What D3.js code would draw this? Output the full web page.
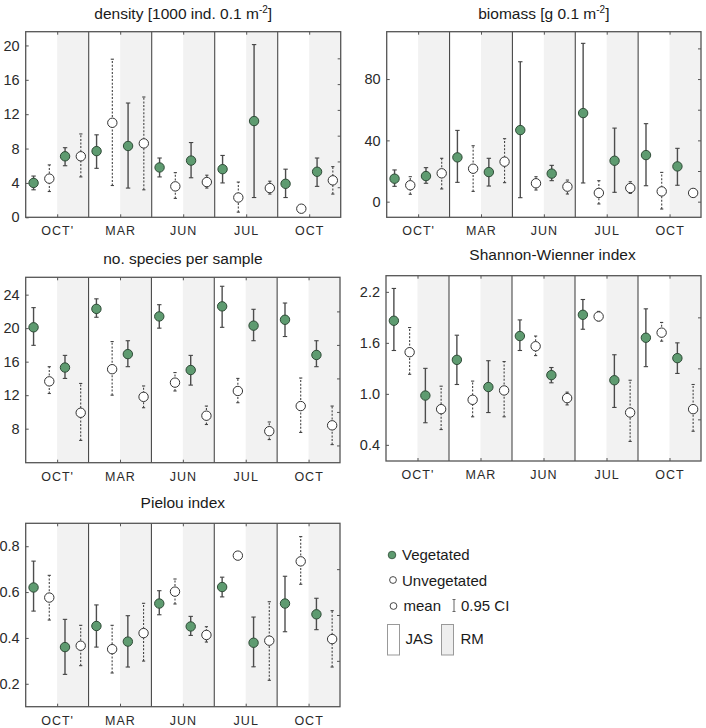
<!DOCTYPE html>
<html><head><meta charset="utf-8">
<script src="https://cdn.jsdelivr.net/npm/d3@7"></script>
<style>
body{margin:0;background:#fff;}
svg{display:block;font-family:Arial,"Liberation Sans",sans-serif;}
</style></head>
<body><svg id="c" width="706" height="728"></svg>
<script>
const months = ["OCT'", "MAR", "JUN", "JUL", "OCT"];
const groups = ["V-JAS", "U-JAS", "V-RM", "U-RM"];

const densityMean = [[4.0,4.5,7.1,7.1],[7.7,11.0,8.3,8.6],[5.8,3.6,6.6,4.1],[5.6,2.3,11.2,3.4],[3.9,1.0,5.3,4.3]];
const densityLow  = [[3.2,3.0,6.0,4.7],[5.7,3.7,3.4,3.2],[4.7,2.2,4.6,3.4],[4.0,0.6,2.3,2.7],[2.3,null,3.6,2.7]];
const densityHigh = [[4.8,6.1,8.1,9.7],[9.6,18.4,13.3,14.0],[6.9,5.2,8.7,4.9],[7.2,4.1,20.1,4.2],[5.6,null,6.9,5.9]];

const biomassMean = [[15.0,10.7,16.7,18.5],[28.9,21.5,19.3,26.1],[46.7,12.0,18.3,9.8],[57.8,5.7,26.7,8.9],[30.4,6.7,23.0,5.7]];
const biomassLow  = [[10.0,4.8,12.0,8.3],[12.6,6.7,10.2,12.4],[2.6,7.6,13.7,5.0],[12.2,-1.5,6.1,5.4],[10.4,-4.8,10.7,null]];
const biomassHigh = [[20.7,16.3,22.2,28.3],[46.5,36.5,28.3,41.1],[91.3,16.3,23.7,14.1],[103.3,13.7,48.0,13.0],[50.9,19.1,34.8,null]];

const speciesMean = [[20.1,13.65,15.3,9.9],[22.3,15.1,16.9,11.8],[21.4,13.5,15.0,9.55],[22.6,12.5,20.3,7.7],[21.0,10.7,16.8,8.4]];
const speciesLow  = [[17.95,12.2,14.0,6.6],[21.3,12.0,15.4,10.5],[20.0,12.5,13.2,8.5],[20.1,11.1,18.5,6.7],[19.0,7.55,15.4,6.1]];
const speciesHigh = [[22.45,15.4,16.75,13.4],[23.5,18.4,18.5,13.1],[22.8,14.7,16.75,10.7],[25.0,14.0,22.25,8.8],[23.0,14.05,18.5,10.7]];

const shannonMean = [[1.86,1.49,0.98,0.82],[1.40,0.93,1.08,1.04],[1.68,1.56,1.22,0.95],[1.93,1.91,1.16,0.78],[1.66,1.72,1.42,0.82]];
const shannonLow  = [[1.51,1.23,0.66,0.58],[1.11,0.73,0.78,0.73],[1.51,1.45,1.13,0.87],[1.76,1.86,0.84,0.44],[1.32,1.62,1.24,0.56]];
const shannonHigh = [[2.24,1.78,1.30,1.09],[1.69,1.15,1.39,1.38],[1.87,1.68,1.31,1.02],[2.11,1.97,1.46,1.16],[2.00,1.84,1.60,1.11]];

const pielouMean = [[0.62,0.576,0.36,0.366],[0.452,0.351,0.384,0.421],[0.55,0.602,0.45,0.413],[0.622,0.759,0.379,0.388],[0.55,0.734,0.503,0.395]];
const pielouLow  = [[0.517,0.478,0.241,0.279],[0.36,0.247,0.273,0.299],[0.501,0.548,0.411,0.382],[0.579,0.75,0.274,0.215],[0.427,0.634,0.436,0.273]];
const pielouHigh = [[0.735,0.673,0.481,0.455],[0.544,0.455,0.497,0.551],[0.606,0.657,0.494,0.449],[0.665,0.768,0.491,0.558],[0.669,0.842,0.573,0.519]];

const densityTicks = [0,4,8,12,16,20];
const biomassTicks = [0,40,80];
const speciesTicks = [8,12,16,20,24];
const shannonTicks = [0.4,1.0,1.6,2.2];
const pielouTicks = [0.2,0.4,0.6,0.8];

const legendLabels = ["Vegetated", "Unvegetated", "mean", "0.95 CI", "JAS", "RM"];

const panels = [
  {title:"density [1000 ind. 0.1 m", sup:"-2", tail:"]", mean:densityMean, low:densityLow, high:densityHigh,
   domain:[0,21.6], ticks:densityTicks, rticks:[3.5,6.5,9.5,12.5,15.5,18.5], fmt:d3.format("d"),
   x0:25.7, x1:340.7, y0:31.7, y1:217.3, ty:18.5},
  {title:"biomass [g 0.1 m", sup:"-2", tail:"]", mean:biomassMean, low:biomassLow, high:biomassHigh,
   domain:[-10.2,110.9], ticks:biomassTicks, rticks:[0,20,40,60,80,100], fmt:d3.format("d"),
   x0:386.7, x1:701, y0:31.7, y1:217.3, ty:18.5},
  {title:"no. species per sample", mean:speciesMean, low:speciesLow, high:speciesHigh,
   domain:[3.94,26.07], ticks:speciesTicks, rticks:[6,10,14,18,22], fmt:d3.format("d"),
   x0:25.7, x1:340, y0:277.3, y1:462.7, ty:263.5},
  {title:"Shannon-Wienner index", mean:shannonMean, low:shannonLow, high:shannonHigh,
   domain:[0.21,2.39], ticks:shannonTicks, rticks:[0.7,1.3,1.9], fmt:d3.format(".1f"),
   x0:386, x1:701, y0:275.7, y1:461, ty:259.5, tdx:9},
  {title:"Pielou index", mean:pielouMean, low:pielouLow, high:pielouHigh,
   domain:[0.1,0.9], ticks:pielouTicks, rticks:[0.3,0.5,0.7], fmt:d3.format(".1f"),
   x0:25.7, x1:340, y0:523.3, y1:706.7, ty:508}
];

const svg = d3.select("#c");
const GREEN = "#5e9b70", FRAME = "#555", SHADE = "#f2f2f2";

panels.forEach(p => {
  const g = svg.append("g");
  const xm = d3.scaleBand().domain(months).range([p.x0, p.x1]).padding(0);
  const xs = d3.scaleBand().domain(groups).range([0, xm.bandwidth()]).padding(0);
  const y = d3.scaleLinear().domain(p.domain).range([p.y1, p.y0]);

  g.selectAll("rect.shade").data(months).enter().append("rect")
    .attr("x", m => xm(m) + xs("V-RM"))
    .attr("y", p.y0).attr("width", xm.bandwidth()/2).attr("height", p.y1 - p.y0)
    .attr("fill", SHADE);

  g.selectAll("line.div").data(months.slice(1)).enter().append("line")
    .attr("x1", m => xm(m)).attr("x2", m => xm(m))
    .attr("y1", p.y0).attr("y2", p.y1)
    .attr("stroke", "#4a4a4a").attr("stroke-width", 1.1);

  const ly = d3.axisLeft(y).tickValues(p.ticks).tickFormat(p.fmt).tickSizeInner(-3).tickSizeOuter(0).tickPadding(6);
  const la = g.append("g").attr("transform", `translate(${p.x0},0)`).call(ly);
  la.select(".domain").remove();
  la.selectAll("line").attr("stroke", FRAME);
  la.selectAll("text").attr("font-size", 14.5).attr("fill", "#2a2a2a").attr("font-family", "Arial, 'Liberation Sans', sans-serif");

  const ry = d3.axisRight(y).tickValues(p.rticks).tickFormat("").tickSizeInner(-3).tickSizeOuter(0);
  const ra = g.append("g").attr("transform", `translate(${p.x1},0)`).call(ry);
  ra.select(".domain").remove();
  ra.selectAll("line").attr("stroke", FRAME);

  const xc = d3.scalePoint().domain(months).range([xm(months[0]) + xm.bandwidth()/2, xm(months[4]) + xm.bandwidth()/2]);
  const bx = d3.axisBottom(xc).tickSizeInner(-3).tickSizeOuter(0).tickPadding(9);
  const ba = g.append("g").attr("transform", `translate(0,${p.y1})`).call(bx);
  ba.select(".domain").remove();
  ba.selectAll("line").attr("stroke", FRAME);
  ba.selectAll("text").attr("font-size", 12.5).attr("fill", "#2a2a2a").attr("letter-spacing", "1px")
    .attr("font-family", "Arial, 'Liberation Sans', sans-serif");

  const tx = d3.axisTop(xc).tickFormat("").tickSizeInner(-3).tickSizeOuter(0);
  const ta = g.append("g").attr("transform", `translate(0,${p.y0})`).call(tx);
  ta.select(".domain").remove();
  ta.selectAll("line").attr("stroke", FRAME);

  g.append("rect").attr("x", p.x0).attr("y", p.y0).attr("width", p.x1 - p.x0).attr("height", p.y1 - p.y0)
    .attr("fill", "none").attr("stroke", FRAME).attr("stroke-width", 1.3);

  const pts = [];
  months.forEach((m, i) => groups.forEach((gr, j) => {
    pts.push({m, gr, veg: gr.startsWith("V"), v: p.mean[i][j], lo: p.low[i][j], hi: p.high[i][j]});
  }));
  const cx = d => xm(d.m) + xs(d.gr) + xs.bandwidth()/2;

  const eb = pts.filter(d => d.lo !== null && d.hi !== null);
  const ebg = g.selectAll("g.eb").data(eb).enter().append("g");
  ebg.append("line")
    .attr("x1", cx).attr("x2", cx).attr("y1", d => y(d.lo)).attr("y2", d => y(d.hi))
    .attr("stroke", d => d.veg ? "#4d4d4d" : "#444")
    .attr("stroke-width", d => d.veg ? 1.4 : 1.1)
    .attr("stroke-dasharray", d => d.veg ? null : "2,1.6");
  ["lo","hi"].forEach(k => {
    ebg.append("line")
      .attr("x1", d => cx(d) - (d.veg ? 2.2 : 1.6)).attr("x2", d => cx(d) + (d.veg ? 2.2 : 1.6))
      .attr("y1", d => y(d[k])).attr("y2", d => y(d[k]))
      .attr("stroke", "#444").attr("stroke-width", 1.1);
  });

  g.selectAll("circle.pt").data(pts).enter().append("circle")
    .attr("cx", cx).attr("cy", d => y(d.v)).attr("r", 4.7)
    .attr("fill", d => d.veg ? GREEN : "#fff")
    .attr("stroke", d => d.veg ? "#2e4a36" : "#333").attr("stroke-width", 1);

  const t = g.append("text").attr("x", (p.x0 + p.x1)/2 + (p.tdx || 0)).attr("y", p.ty)
    .attr("text-anchor", "middle").attr("font-size", 15.5).attr("fill", "#1a1a1a");
  t.append("tspan").text(p.title);
  if (p.sup) {
    t.append("tspan").attr("font-size", 10).attr("dy", -6).text(p.sup);
    t.append("tspan").attr("dy", 6).text(p.tail);
  }
});

const lg = svg.append("g").attr("font-size", 15).attr("fill", "#1a1a1a");
lg.append("circle").attr("cx", 392).attr("cy", 555).attr("r", 3.8).attr("fill", GREEN).attr("stroke", "#2e4a36").attr("stroke-width", 0.8);
lg.append("text").attr("x", 402).attr("y", 560).text(legendLabels[0]);
lg.append("circle").attr("cx", 393).attr("cy", 580).attr("r", 3.4).attr("fill", "#fff").attr("stroke", "#333").attr("stroke-width", 0.9);
lg.append("text").attr("x", 402).attr("y", 586).text(legendLabels[1]);
lg.append("circle").attr("cx", 393.5).attr("cy", 606).attr("r", 3.4).attr("fill", "#fff").attr("stroke", "#333").attr("stroke-width", 0.9);
lg.append("text").attr("x", 403.5).attr("y", 611).text(legendLabels[2]);
lg.append("line").attr("x1", 454).attr("x2", 454).attr("y1", 599.5).attr("y2", 611.5).attr("stroke", "#666").attr("stroke-width", 1);
lg.append("line").attr("x1", 452.5).attr("x2", 455.5).attr("y1", 599.5).attr("y2", 599.5).attr("stroke", "#666").attr("stroke-width", 1);
lg.append("line").attr("x1", 452.5).attr("x2", 455.5).attr("y1", 611.5).attr("y2", 611.5).attr("stroke", "#666").attr("stroke-width", 1);
lg.append("text").attr("x", 461).attr("y", 611).text(legendLabels[3]);
lg.append("rect").attr("x", 387.5).attr("y", 624.5).attr("width", 12).attr("height", 30.5).attr("fill", "#fff").attr("stroke", "#999");
lg.append("text").attr("x", 405.5).attr("y", 643.5).text(legendLabels[4]);
lg.append("rect").attr("x", 441.5).attr("y", 624.5).attr("width", 12).attr("height", 30.5).attr("fill", "#eee").attr("stroke", "#999");
lg.append("text").attr("x", 460.5).attr("y", 643.5).text(legendLabels[5]);
</script></body></html>
